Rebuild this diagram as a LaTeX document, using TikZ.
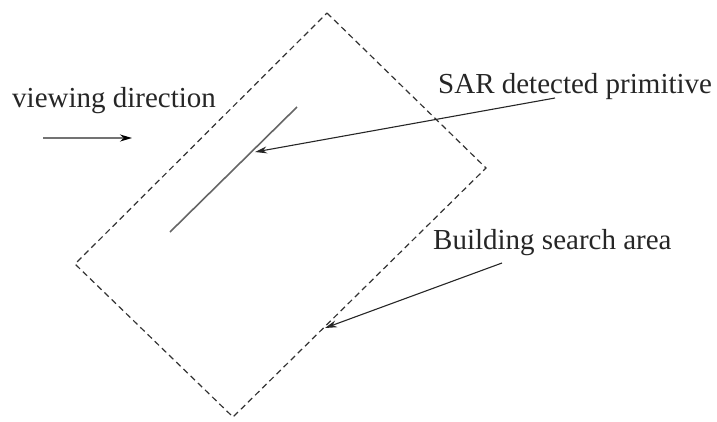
\documentclass[tikz,border=0pt]{standalone}
\usepackage{fontspec}
\setmainfont{Liberation Serif}
\usetikzlibrary{arrows.meta}
\begin{document}
\begin{tikzpicture}[x=1pt,y=-1pt,
  label text/.style={anchor=base west,inner sep=0pt,font=\fontsize{29}{34}\selectfont,text=black!85},
  area border/.style={draw=black!80,line width=1.2pt,dash pattern=on 6pt off 4pt},
  primitive/.style={draw=black!60,line width=1.6pt},
  pointer/.style={draw=black!85,line width=1.1pt,-{Stealth[length=12pt,width=7pt]}}]
  \useasboundingbox (0,0) rectangle (717,421);
  % building search area (rotated rectangle)
  \coordinate (top) at (327,13);
  \coordinate (right) at (486,168);
  \coordinate (bottom) at (233,417);
  \coordinate (left) at (75,264);
  \draw[area border] (top) -- (right) -- (bottom) -- (left) -- cycle;
  % detected primitive
  \coordinate (p1) at (297,107);
  \coordinate (p2) at (170,232);
  \draw[primitive] (p1) -- (p2);
  % labels
  \node[label text] (view) at (12,107) {viewing direction};
  \node[label text] (sar) at (438,93) {SAR detected primitive};
  \node[label text] (bsa) at (433,249) {Building search area};
  % viewing direction arrow
  \coordinate (v1) at (43,138);
  \coordinate (v2) at (132,138);
  \draw[draw=black!55,line width=1.6pt,-{Stealth[length=12pt,width=7pt,color=black]}] (v1) -- (v2);
  % pointers
  \coordinate (s1) at (555,98);
  \coordinate (s2) at (255,152);
  \draw[pointer] (s1) -- (s2);
  \coordinate (b1) at (502,263);
  \coordinate (b2) at (325,328);
  \draw[pointer] (b1) -- (b2);
\end{tikzpicture}
\end{document}
